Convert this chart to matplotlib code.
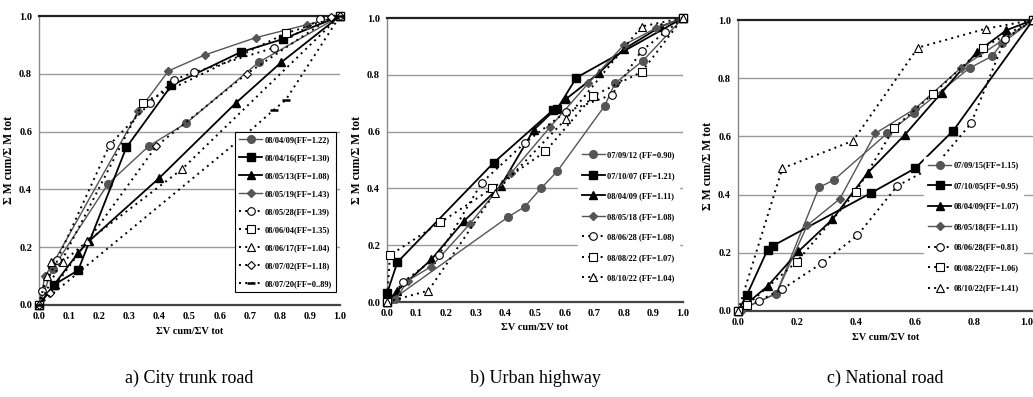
import matplotlib
matplotlib.use('Agg')
import matplotlib.pyplot as plt

plt.rcParams['font.family'] = ['Liberation Serif', 'DejaVu Serif']
plt.rcParams['font.weight'] = 'bold'

# ---------------- Panel a) City trunk road ----------------
a_labels = ['08/04/09(FF=1.22)', '08/04/16(FF=1.30)', '08/05/13(FF=1.08)', '08/05/19(FF=1.43)',
            '08/05/28(FF=1.39)', '08/06/04(FF=1.35)', '08/06/17(FF=1.04)', '08/07/02(FF=1.18)',
            '08/07/20(FF=0..89)']
a_x1 = [0, 0.045, 0.23, 0.365, 0.49, 0.73, 1.0]
a_y1 = [0, 0.125, 0.42, 0.55, 0.63, 0.84, 1.0]
a_x2 = [0, 0.05, 0.13, 0.29, 0.44, 0.67, 0.81, 1.0]
a_y2 = [0, 0.07, 0.12, 0.545, 0.76, 0.875, 0.92, 1.0]
a_x3 = [0, 0.05, 0.13, 0.165, 0.40, 0.655, 0.805, 1.0]
a_y3 = [0, 0.07, 0.18, 0.22, 0.44, 0.70, 0.84, 1.0]
a_x4 = [0, 0.02, 0.05, 0.33, 0.43, 0.55, 0.72, 0.89, 1.0]
a_y4 = [0, 0.10, 0.15, 0.67, 0.81, 0.865, 0.925, 0.97, 1.0]
a_x5 = [0, 0.01, 0.06, 0.235, 0.37, 0.45, 0.515, 0.78, 0.935, 1.0]
a_y5 = [0, 0.05, 0.155, 0.555, 0.70, 0.78, 0.805, 0.89, 0.99, 1.0]
a_x6 = [0, 0.345, 0.82, 1.0]
a_y6 = [0, 0.70, 0.94, 1.0]
a_x7 = [0, 0.025, 0.04, 0.08, 0.16, 0.475, 1.0]
a_y7 = [0, 0.10, 0.15, 0.15, 0.22, 0.47, 1.0]
a_x8 = [0, 0.035, 0.39, 0.69, 0.97, 1.0]
a_y8 = [0, 0.04, 0.55, 0.80, 0.995, 1.0]
a_x9 = [0, 0.67, 0.78, 0.82, 1.0]
a_y9 = [0, 0.575, 0.675, 0.71, 1.0]

# ---------------- Panel b) Urban highway ----------------
b_labels = ['07/09/12 (FF=0.90)', '07/10/07 (FF=1.21)', '08/04/09 (FF=1.11)', '08/05/18 (FF=1.08)',
            '08/06/28 (FF=1.08)', '08/08/22 (FF=1.07)', '08/10/22 (FF=1.04)']
b_x1 = [0, 0.02, 0.41, 0.465, 0.52, 0.575, 0.735, 0.77, 0.865, 1.0]
b_y1 = [0, 0.01, 0.30, 0.335, 0.40, 0.46, 0.69, 0.77, 0.85, 1.0]
b_x2 = [0, 0.0, 0.035, 0.36, 0.56, 0.575, 0.64, 1.0]
b_y2 = [0, 0.03, 0.14, 0.49, 0.675, 0.68, 0.79, 1.0]
b_x3 = [0, 0.035, 0.15, 0.26, 0.385, 0.495, 0.605, 0.715, 0.80, 0.925, 1.0]
b_y3 = [0, 0.04, 0.15, 0.285, 0.41, 0.605, 0.715, 0.805, 0.89, 0.97, 1.0]
b_x4 = [0, 0.03, 0.07, 0.15, 0.28, 0.42, 0.55, 0.68, 0.80, 0.91, 1.0]
b_y4 = [0, 0.01, 0.075, 0.125, 0.275, 0.455, 0.615, 0.77, 0.905, 0.965, 1.0]
b_x5 = [0, 0.055, 0.175, 0.32, 0.465, 0.605, 0.76, 0.86, 0.94, 1.0]
b_y5 = [0, 0.07, 0.165, 0.42, 0.56, 0.67, 0.73, 0.885, 0.95, 1.0]
b_x6 = [0, 0.01, 0.18, 0.355, 0.535, 0.695, 0.86, 1.0]
b_y6 = [0, 0.165, 0.28, 0.40, 0.53, 0.725, 0.81, 1.0]
b_x7 = [0, 0.14, 0.365, 0.605, 0.86, 1.0]
b_y7 = [0, 0.04, 0.385, 0.645, 0.97, 1.0]

# ---------------- Panel c) National road ----------------
c_labels = ['07/09/15(FF=1.15)', '07/10/05(FF=0.95)', '08/04/09(FF=1.07)', '08/05/18(FF=1.11)',
            '08/06/28(FF=0.81)', '08/08/22(FF=1.06)', '08/10/22(FF=1.41)']
c_x1 = [0, 0.01, 0.13, 0.275, 0.325, 0.505, 0.595, 0.785, 0.86, 0.895, 1.0]
c_y1 = [0, 0.005, 0.06, 0.425, 0.45, 0.61, 0.68, 0.835, 0.875, 0.92, 1.0]
c_x2 = [0, 0.03, 0.10, 0.12, 0.45, 0.60, 0.73, 1.0]
c_y2 = [0, 0.055, 0.21, 0.225, 0.405, 0.49, 0.62, 1.0]
c_x3 = [0, 0.10, 0.205, 0.32, 0.44, 0.565, 0.69, 0.81, 0.91, 1.0]
c_y3 = [0, 0.085, 0.205, 0.315, 0.475, 0.605, 0.75, 0.89, 0.965, 1.0]
c_x4 = [0, 0.13, 0.235, 0.345, 0.465, 0.60, 0.755, 1.0]
c_y4 = [0, 0.06, 0.295, 0.385, 0.61, 0.695, 0.835, 1.0]
c_x5 = [0, 0.07, 0.15, 0.285, 0.405, 0.54, 0.67, 0.79, 0.905, 1.0]
c_y5 = [0, 0.035, 0.075, 0.165, 0.26, 0.43, 0.50, 0.645, 0.935, 1.0]
c_x6 = [0, 0.03, 0.20, 0.40, 0.53, 0.66, 0.83, 1.0]
c_y6 = [0, 0.02, 0.17, 0.41, 0.63, 0.745, 0.905, 1.0]
c_x7 = [0, 0.15, 0.39, 0.61, 0.84, 1.0]
c_y7 = [0, 0.49, 0.585, 0.905, 0.97, 1.0]

captions = ['a) City trunk road', 'b) Urban highway', 'c) National road']
ylabel_text = 'Σ M cum/Σ M tot'
xlabel_text = 'ΣV cum/ΣV tot'

# ---------------- styles ----------------
GRAY = '#555555'
DOT = (0, (1, 2.2))
S_GCIRC = dict(color=GRAY, lw=1.0, ls='-', marker='o', mfc=GRAY, mec=GRAY, ms=5.5)
S_BSQ = dict(color='black', lw=1.3, ls='-', marker='s', mfc='black', mec='black', ms=5.5)
S_BTRI = dict(color='black', lw=1.3, ls='-', marker='^', mfc='black', mec='black', ms=6)
S_GDIA = dict(color=GRAY, lw=1.0, ls='-', marker='D', mfc=GRAY, mec=GRAY, ms=3.8)
S_WCIRC = dict(color='black', lw=1.4, ls=DOT, marker='o', mfc='white', mec='black', ms=5.5, mew=0.8)
S_WSQ = dict(color='black', lw=1.4, ls=DOT, marker='s', mfc='white', mec='black', ms=5.5, mew=0.8)
S_WTRI = dict(color='black', lw=1.4, ls=DOT, marker='^', mfc='white', mec='black', ms=6, mew=0.8)
S_WDIA = dict(color='black', lw=1.4, ls=DOT, marker='D', mfc='white', mec='black', ms=4.5, mew=0.8)
S_DASH = dict(color='black', lw=1.4, ls=DOT, marker='_', mfc='black', mec='black', ms=6, mew=1.8)

W, H = 1033, 397
fig = plt.figure(figsize=(W / 100, H / 100), dpi=100)


def make_axes(rect_px, xticks, xticklabels):
    l, r, t, b = rect_px
    ax = fig.add_axes([l / W, 1 - b / H, (r - l) / W, (b - t) / H])
    ax.set_xlim(0, 1)
    ax.set_ylim(0, 1)
    ax.set_xticks(xticks)
    ax.set_xticklabels(xticklabels)
    ax.set_yticks([0, 0.2, 0.4, 0.6, 0.8, 1.0])
    ax.set_yticklabels(['0.0', '0.2', '0.4', '0.6', '0.8', '1.0'])
    ax.tick_params(length=0, labelsize=7.5, pad=5)
    for lab in ax.get_xticklabels() + ax.get_yticklabels():
        lab.set_fontweight('bold')
    for yv in [0.2, 0.4, 0.6, 0.8]:
        ax.axhline(yv, color='#9a9a9a', lw=1.0, zorder=0)
    ax.spines['right'].set_visible(False)
    ax.spines['top'].set_color('#222222')
    ax.spines['top'].set_linewidth(1.6)
    ax.spines['left'].set_color('#888888')
    ax.spines['left'].set_linewidth(1.0)
    ax.spines['bottom'].set_color('#444444')
    ax.spines['bottom'].set_linewidth(1.6)
    ax.set_ylabel(ylabel_text, fontsize=8.5, fontweight='bold', labelpad=3)
    ax.set_xlabel(xlabel_text, fontsize=7.5, fontweight='bold', labelpad=4)
    return ax


def draw(ax, xs, ys, labels, styles, legend_kw):
    for x, y, lab, st in zip(xs, ys, labels, styles):
        ax.plot(x, y, label=lab, clip_on=False, zorder=3, **st)
    leg = ax.legend(prop=dict(family=['Liberation Serif', 'DejaVu Serif'], weight='bold', size=6),
                    handlelength=2.7, handletextpad=0.3, borderpad=0.5, fancybox=False,
                    framealpha=1.0, **legend_kw)
    leg.set_zorder(10)
    return leg


ticks01 = [i / 10 for i in range(11)]
ticks01_lab = ['%.1f' % t for t in ticks01]

# Panel a
axa = make_axes((39, 340, 16, 305), ticks01, ticks01_lab)
lega = draw(axa,
            [a_x1, a_x2, a_x3, a_x4, a_x5, a_x6, a_x7, a_x8, a_x9],
            [a_y1, a_y2, a_y3, a_y4, a_y5, a_y6, a_y7, a_y8, a_y9],
            a_labels,
            [S_GCIRC, S_BSQ, S_BTRI, S_GDIA, S_WCIRC, S_WSQ, S_WTRI, S_WDIA, S_DASH],
            dict(loc='lower right', bbox_to_anchor=(1.0, 0.03), labelspacing=1.2,
                 edgecolor='black'))
lega.get_frame().set_linewidth(0.8)

# Panel b
axb = make_axes((387, 683, 18, 302), ticks01, ticks01_lab)
legb = draw(axb,
            [b_x1, b_x2, b_x3, b_x4, b_x5, b_x6, b_x7],
            [b_y1, b_y2, b_y3, b_y4, b_y5, b_y6, b_y7],
            b_labels,
            [S_GCIRC, S_BSQ, S_BTRI, S_GDIA, S_WCIRC, S_WSQ, S_WTRI],
            dict(loc='lower right', bbox_to_anchor=(1.0, 0.04), labelspacing=1.5,
                 edgecolor='white'))

# Panel c
ticks02 = [0, 0.2, 0.4, 0.6, 0.8, 1.0]
axc = make_axes((738, 1033, 20, 311), ticks02, ['0.0', '0.2', '0.4', '0.6', '0.8', '1.0'])
axc.get_xticklabels()[-1].set_horizontalalignment('right')
legc = draw(axc,
            [c_x1, c_x2, c_x3, c_x4, c_x5, c_x6, c_x7],
            [c_y1, c_y2, c_y3, c_y4, c_y5, c_y6, c_y7],
            c_labels,
            [S_GCIRC, S_BSQ, S_BTRI, S_GDIA, S_WCIRC, S_WSQ, S_WTRI],
            dict(loc='lower right', bbox_to_anchor=(0.98, 0.035), labelspacing=1.5,
                 edgecolor='white'))

for ax, cap in zip([axa, axb, axc], captions):
    pos = ax.get_position()
    fig.text((pos.x0 + pos.x1) / 2, 1 - 378 / H, cap, ha='center', va='center',
             fontsize=13, fontweight='normal', family=['Liberation Serif', 'DejaVu Serif'])

fig.savefig('out.png', dpi=100)
